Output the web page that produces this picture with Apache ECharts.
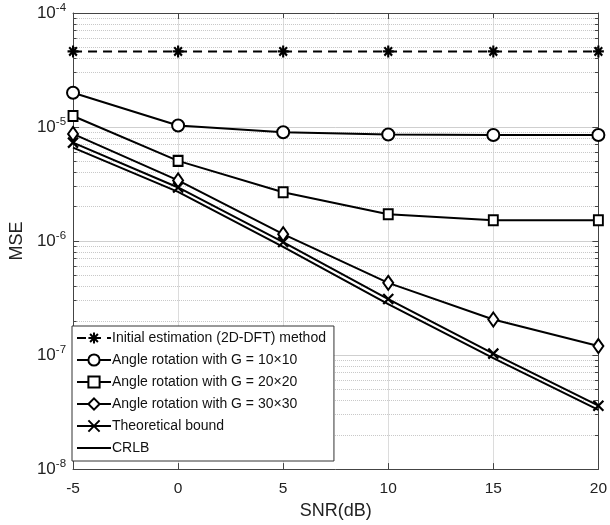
<!DOCTYPE html>
<html><head><meta charset="utf-8">
<script src="https://cdn.jsdelivr.net/npm/echarts@6/dist/echarts.min.js"></script>
<style>html,body{margin:0;padding:0;background:#fff}#c{width:610px;height:525px}</style>
</head><body><div id="c"></div>
<script>
const snr = [-5, 0, 5, 10, 15, 20];
const initialDFT = [4.6e-5, 4.6e-5, 4.6e-5, 4.6e-5, 4.6e-5, 4.6e-5];
const rot10 = [2.0e-5, 1.03e-5, 9.0e-6, 8.6e-6, 8.5e-6, 8.5e-6];
const rot20 = [1.25e-5, 5.05e-6, 2.68e-6, 1.72e-6, 1.52e-6, 1.52e-6];
const rot30 = [8.7e-6, 3.4e-6, 1.15e-6, 4.3e-7, 2.05e-7, 1.2e-7];
const theo = [7.3e-6, 2.95e-6, 9.8e-7, 3.1e-7, 1.03e-7, 3.6e-8];
const crlb = [6.6e-6, 2.7e-6, 8.9e-7, 2.8e-7, 9.4e-8, 3.3e-8];
const names = ['Initial estimation (2D-DFT) method','Angle rotation with G = 10\u00d710','Angle rotation with G = 20\u00d720','Angle rotation with G = 30\u00d730','Theoretical bound','CRLB'];
const xTicks = [-5, 0, 5, 10, 15, 20];

const minorVals = [];
for (let d = -8; d < -4; d++) for (let k = 2; k <= 9; k++) minorVals.push(k * Math.pow(10, d));

const F = 'Liberation Sans, Arial, sans-serif';
const asterisk = 'path://M5,0L5,10M0,5L10,5M1.5,1.5L8.5,8.5M8.5,1.5L1.5,8.5';
const cross = 'path://M0,0L10,10M10,0L0,10';

function mk(name, data, symbol, size, dashed, strokeSym) {
  return {
    name, type: 'line', data: snr.map((x, i) => [x, data[i]]),
    symbol, symbolSize: size, showSymbol: true,
    lineStyle: {color: '#000', width: 2, type: dashed ? [9, 6] : 'solid'},
    itemStyle: strokeSym ? {color: 'rgba(0,0,0,0)', borderColor: '#000', borderWidth: 2.2}
                         : {color: '#000', borderColor: '#000', borderWidth: 1.8},
    z: 5, animation: false
  };
}

const minorGrid = {
  type: 'lines', coordinateSystem: 'cartesian2d', silent: true, animation: false, z: 1,
  lineStyle: {color: '#c8c8c8', type: 'dotted', width: 1, opacity: 1},
  data: minorVals.map(v => ({coords: [[-5, v], [20, v]]}))
};
const minorTicks = {
  type: 'lines', coordinateSystem: 'cartesian2d', silent: true, animation: false, z: 3,
  lineStyle: {color: '#444', type: 'solid', width: 1, opacity: 1},
  data: minorVals.flatMap(v => [
    {coords: [[-5, v], [-4.83, v]]},
    {coords: [[20, v], [19.83, v]]}
  ])
};

const legendData = names.map((n, i) => i === 5
  ? {name: n, icon: 'path://M0,0L34,0L34,2L0,2Z', itemStyle: {color: '#000', borderWidth: 0}}
  : {name: n});

const chart = echarts.init(document.getElementById('c'), null, {renderer: 'canvas'});
chart.setOption({
  backgroundColor: '#fff',
  animation: false,
  grid: {left: 60, right: 6, top: 13, bottom: 51, containLabel: false},
  legend: {
    orient: 'vertical', left: 72, top: 326,
    backgroundColor: '#fff', borderColor: '#333', borderWidth: 1,
    padding: [5, 8, 6, 4], itemGap: 8, itemWidth: 34, itemHeight: 14,
    textStyle: {fontFamily: F, fontSize: 14, color: '#111', padding: [0, 0, 0, -4]},
    data: legendData
  },
  xAxis: [{
    type: 'value', min: -5, max: 20, interval: 5,
    name: 'SNR(dB)', nameLocation: 'middle', nameGap: 24,
    nameTextStyle: {fontFamily: F, fontSize: 18, color: '#222'},
    axisLine: {onZero: false, lineStyle: {color: '#444', width: 1}},
    axisTick: {inside: true, length: 6, lineStyle: {color: '#444'}},
    axisLabel: {fontFamily: F, fontSize: 15.5, color: '#222', margin: 12},
    splitLine: {show: true, lineStyle: {color: '#dcdcdc', width: 1}}
  }, {
    type: 'value', min: -5, max: 20, interval: 5, position: 'top',
    axisLine: {onZero: false, lineStyle: {color: '#444'}},
    axisTick: {inside: true, length: 6, lineStyle: {color: '#444'}},
    axisLabel: {show: false}, splitLine: {show: false}
  }],
  yAxis: [{
    type: 'log', logBase: 10, min: 1e-8, max: 1e-4,
    name: 'MSE', nameLocation: 'middle', nameGap: 34, nameRotate: 90,
    nameTextStyle: {fontFamily: F, fontSize: 18, color: '#222'},
    axisLine: {onZero: false, lineStyle: {color: '#444', width: 1}},
    axisTick: {inside: true, length: 6, lineStyle: {color: '#444'}},
    axisLabel: {
      margin: 7,
      formatter: v => '{b|10}{s|' + Math.round(Math.log10(v)) + '}',
      rich: {b: {fontFamily: F, fontSize: 17, color: '#222'},
             s: {fontFamily: F, fontSize: 11.5, color: '#222', padding: [0, 0, 11, 0]}}
    },
    splitLine: {show: true, lineStyle: {color: '#cfcfcf', width: 1}}
  }, {
    type: 'log', logBase: 10, min: 1e-8, max: 1e-4, position: 'right',
    axisLine: {onZero: false, lineStyle: {color: '#444'}},
    axisTick: {inside: true, length: 6, lineStyle: {color: '#444'}},
    axisLabel: {show: false}, splitLine: {show: false}
  }],
  series: [
    minorGrid, minorTicks,
    mk(names[0], initialDFT, asterisk, [11, 12], true, true),
    mk(names[1], rot10, 'emptyCircle', 12, false, false),
    mk(names[2], rot20, 'emptyRect', [9, 10], false, false),
    mk(names[3], rot30, 'emptyDiamond', [10, 14], false, false),
    mk(names[4], theo, cross, 10, false, true),
    mk(names[5], crlb, 'none', 0, false, false)
  ]
});
</script></body></html>
